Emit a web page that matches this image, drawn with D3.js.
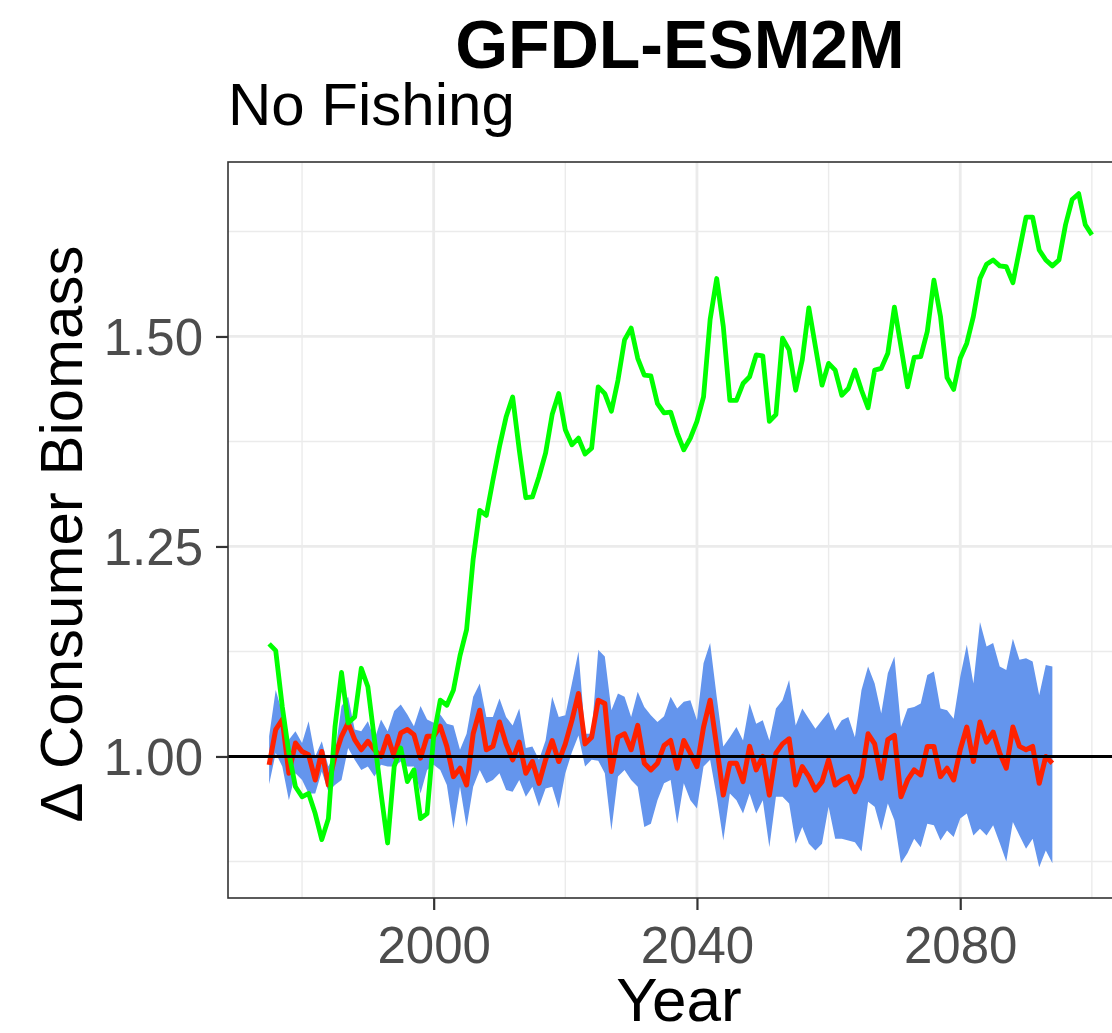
<!DOCTYPE html>
<html>
<head>
<meta charset="utf-8">
<script src="https://cdn.jsdelivr.net/npm/d3@7"></script>
<style>
  html, body { margin: 0; padding: 0; background: #fff; overflow: hidden; }
  svg { display: block; font-family: "Liberation Sans", Arial, Helvetica, sans-serif; }
</style>
</head>
<body>
<svg id="chart" width="1112" height="1033"></svg>
<script>
// Consumer biomass relative to the historical baseline, GFDL-ESM2M, no fishing
const firstYear = 1975;

// Ensemble projection (green line), 1975-2100
const ensembleValues = [
  1.134, 1.126, 1.059, 1.004, 0.964, 0.952, 0.956, 0.932, 0.901, 0.926,
  1.035, 1.100, 1.040, 1.047, 1.105, 1.083, 1.020, 0.956, 0.897, 0.988,
  1.010, 0.970, 0.984, 0.926, 0.932, 1.024, 1.067, 1.061, 1.079, 1.120,
  1.151, 1.235, 1.293, 1.287, 1.329, 1.369, 1.404, 1.428, 1.365, 1.308,
  1.309, 1.333, 1.361, 1.407, 1.432, 1.389, 1.371, 1.379, 1.360, 1.367,
  1.440, 1.432, 1.411, 1.448, 1.496, 1.510, 1.474, 1.454, 1.453, 1.420,
  1.409, 1.410, 1.385, 1.365, 1.379, 1.399, 1.428, 1.520, 1.569, 1.512,
  1.424, 1.424, 1.444, 1.452, 1.478, 1.477, 1.399, 1.407, 1.498, 1.484,
  1.436, 1.472, 1.534, 1.488, 1.442, 1.468, 1.460, 1.430, 1.438, 1.460,
  1.436, 1.415, 1.460, 1.462, 1.480, 1.535, 1.488, 1.440, 1.475, 1.476,
  1.506, 1.567, 1.524, 1.451, 1.437, 1.474, 1.492, 1.524, 1.569, 1.586,
  1.591, 1.584, 1.583, 1.564, 1.603, 1.642, 1.642, 1.603, 1.591, 1.584,
  1.591, 1.633, 1.663, 1.670, 1.633, 1.621
];

// Control run mean (red line), 1975-2094
const controlMean = [
  0.990, 1.032, 1.044, 0.980, 1.016, 1.006, 1.002, 0.972, 1.006, 0.966,
  1.000, 1.024, 1.040, 1.020, 1.008, 1.018, 1.008, 1.000, 1.024, 1.000,
  1.028, 1.032, 1.026, 0.998, 1.024, 1.024, 1.036, 1.012, 0.976, 0.986,
  0.966, 1.027, 1.055, 1.008, 1.012, 1.041, 1.015, 0.996, 1.017, 0.980,
  0.994, 0.968, 0.996, 1.019, 0.994, 1.015, 1.043, 1.075, 1.015, 1.023,
  1.067, 1.063, 0.982, 1.023, 1.027, 1.008, 1.037, 0.992, 0.984, 0.992,
  1.013, 1.019, 0.986, 1.019, 1.004, 0.988, 1.035, 1.067, 1.012, 0.954,
  0.992, 0.992, 0.970, 1.012, 0.984, 1.000, 0.954, 1.004, 1.015, 1.021,
  0.966, 0.988, 0.976, 0.960, 0.970, 0.996, 0.966, 0.972, 0.976, 0.958,
  0.976, 1.027, 1.015, 0.974, 1.020, 1.025, 0.952, 0.972, 0.984, 0.978,
  1.012, 1.012, 0.976, 0.986, 0.972, 1.008, 1.035, 0.994, 1.041, 1.017,
  1.029, 1.004, 0.986, 1.035, 1.012, 1.008, 1.012, 0.968, 1.000, 0.992
];

// Control run envelope (blue ribbon), 1975-2094
const controlUpper = [
  1.024, 1.079, 1.052, 1.020, 1.030, 1.016, 1.042, 1.000, 1.018, 0.988,
  1.004, 1.060, 1.071, 1.032, 1.030, 1.042, 1.020, 1.044, 1.030, 1.054,
  1.062, 1.050, 1.036, 1.060, 1.044, 1.040, 1.050, 1.039, 1.037, 1.008,
  1.027, 1.071, 1.087, 1.047, 1.047, 1.069, 1.047, 1.037, 1.057, 1.010,
  1.012, 0.996, 1.019, 1.071, 1.047, 1.049, 1.087, 1.125, 1.027, 1.027,
  1.127, 1.119, 1.055, 1.075, 1.071, 1.047, 1.077, 1.059, 1.049, 1.041,
  1.048, 1.071, 1.057, 1.065, 1.067, 1.043, 1.111, 1.135, 1.071, 1.012,
  1.023, 1.035, 1.019, 1.063, 1.039, 1.043, 1.019, 1.057, 1.067, 1.091,
  1.037, 1.057, 1.045, 1.033, 1.043, 1.053, 1.031, 1.043, 1.047, 1.023,
  1.079, 1.107, 1.087, 1.051, 1.099, 1.119, 1.035, 1.057, 1.059, 1.063,
  1.097, 1.101, 1.057, 1.055, 1.045, 1.095, 1.133, 1.087, 1.160, 1.131,
  1.135, 1.107, 1.103, 1.140, 1.115, 1.117, 1.113, 1.073, 1.109, 1.107
];
const controlLower = [
  0.967, 1.004, 0.988, 0.948, 0.980, 0.972, 0.956, 0.956, 0.982, 0.958,
  0.966, 0.972, 1.010, 0.996, 0.984, 0.988, 0.976, 0.990, 0.988, 0.988,
  0.994, 0.988, 0.988, 0.956, 0.984, 0.990, 0.984, 0.966, 0.914, 0.964,
  0.916, 0.964, 0.984, 0.968, 0.972, 0.980, 0.960, 0.958, 0.972, 0.952,
  0.964, 0.940, 0.962, 0.964, 0.938, 0.980, 1.005, 1.025, 0.988, 0.996,
  0.995, 0.980, 0.912, 0.976, 0.984, 0.972, 0.964, 0.916, 0.920, 0.948,
  0.968, 0.972, 0.920, 0.968, 0.948, 0.938, 0.988, 0.996, 0.952, 0.900,
  0.956, 0.948, 0.932, 0.956, 0.932, 0.948, 0.892, 0.952, 0.952, 0.944,
  0.896, 0.916, 0.896, 0.888, 0.896, 0.940, 0.902, 0.902, 0.900, 0.898,
  0.887, 0.946, 0.940, 0.912, 0.944, 0.924, 0.873, 0.885, 0.902, 0.892,
  0.920, 0.918, 0.900, 0.912, 0.904, 0.926, 0.932, 0.906, 0.914, 0.906,
  0.918, 0.897, 0.875, 0.922, 0.906, 0.890, 0.902, 0.868, 0.888, 0.873
];

const xMajorTicks = [2000, 2040, 2080];
const xMinorTicks = [1980, 2020, 2060, 2100];
const yMajorTicks = [1.00, 1.25, 1.50];
const yMinorTicks = [0.875, 1.125, 1.375, 1.625];
const baselineValue = 1.0;

const titleText = "GFDL-ESM2M";
const subtitleText = "No Fishing";
const xTitle = "Year";
const yTitle = "\u0394 Consumer Biomass";

// ---- layout ----
const panel = { left: 228, top: 162, bottom: 898, right: 1133 };

const svg = d3.select("#chart");

const x = d3.scaleLinear()
  .domain([1968.75, 2106.25])
  .range([panel.left, panel.right]);

const y = d3.scaleLinear()
  .domain([0.8315, 1.7077])
  .range([panel.bottom, panel.top]);

const ensemble = ensembleValues.map((v, i) => ({ year: firstYear + i, v }));
const control = controlMean.map((v, i) => ({
  year: firstYear + i, v, lo: controlLower[i], hi: controlUpper[i]
}));

// clip to the panel
svg.append("defs").append("clipPath").attr("id", "panel-clip")
  .append("rect")
  .attr("x", panel.left).attr("y", panel.top)
  .attr("width", panel.right - panel.left)
  .attr("height", panel.bottom - panel.top);

// grid
const grid = svg.append("g");
grid.selectAll(".ymin").data(yMinorTicks).join("line")
  .attr("x1", panel.left).attr("x2", panel.right)
  .attr("y1", d => y(d)).attr("y2", d => y(d))
  .attr("stroke", "#ebebeb").attr("stroke-width", 1.4);
grid.selectAll(".xmin").data(xMinorTicks).join("line")
  .attr("y1", panel.top).attr("y2", panel.bottom)
  .attr("x1", d => x(d)).attr("x2", d => x(d))
  .attr("stroke", "#ebebeb").attr("stroke-width", 1.4);
grid.selectAll(".ymaj").data(yMajorTicks).join("line")
  .attr("x1", panel.left).attr("x2", panel.right)
  .attr("y1", d => y(d)).attr("y2", d => y(d))
  .attr("stroke", "#ebebeb").attr("stroke-width", 2.8);
grid.selectAll(".xmaj").data(xMajorTicks).join("line")
  .attr("y1", panel.top).attr("y2", panel.bottom)
  .attr("x1", d => x(d)).attr("x2", d => x(d))
  .attr("stroke", "#ebebeb").attr("stroke-width", 2.8);

const plot = svg.append("g").attr("clip-path", "url(#panel-clip)");

// control envelope
plot.append("path")
  .datum(control)
  .attr("fill", "#6495ed")
  .attr("d", d3.area()
    .x(d => x(d.year))
    .y0(d => y(d.lo))
    .y1(d => y(d.hi)));

// control mean
plot.append("path")
  .datum(control)
  .attr("fill", "none")
  .attr("stroke", "#ff2200")
  .attr("stroke-width", 5)
  .attr("stroke-linejoin", "round")
  .attr("d", d3.line().x(d => x(d.year)).y(d => y(d.v)));

// ensemble
plot.append("path")
  .datum(ensemble)
  .attr("fill", "none")
  .attr("stroke", "#00ff00")
  .attr("stroke-width", 4.8)
  .attr("stroke-linejoin", "round")
  .attr("d", d3.line().x(d => x(d.year)).y(d => y(d.v)));

// reference line at 1
plot.append("line")
  .attr("x1", panel.left).attr("x2", panel.right)
  .attr("y1", y(baselineValue)).attr("y2", y(baselineValue))
  .attr("stroke", "#000").attr("stroke-width", 3);

// panel border
svg.append("rect")
  .attr("x", panel.left).attr("y", panel.top)
  .attr("width", panel.right - panel.left)
  .attr("height", panel.bottom - panel.top)
  .attr("fill", "none").attr("stroke", "#333333").attr("stroke-width", 1.6);

// axes
const xAxis = svg.append("g")
  .attr("transform", `translate(0,${panel.bottom})`)
  .call(d3.axisBottom(x).tickValues(xMajorTicks).tickFormat(d3.format("d"))
    .tickSize(12).tickPadding(17));
const yAxis = svg.append("g")
  .attr("transform", `translate(${panel.left},0)`)
  .call(d3.axisLeft(y).tickValues(yMajorTicks).tickFormat(d3.format(".2f"))
    .tickSize(12).tickPadding(13));

[xAxis, yAxis].forEach(g => {
  g.select(".domain").remove();
  g.selectAll(".tick line").attr("stroke", "#333333").attr("stroke-width", 2.2);
  g.selectAll(".tick text")
    .attr("fill", "#4d4d4d")
    .style("font-size", "51px")
    .style("font-family", "'Liberation Sans', Arial, sans-serif");
});
xAxis.selectAll(".tick text").attr("dy", "0.71em");
yAxis.selectAll(".tick text").attr("dy", "0.36em");

// titles
svg.append("text")
  .attr("x", 680).attr("y", 68)
  .attr("text-anchor", "middle")
  .style("font-size", "68px").style("font-weight", "bold")
  .attr("fill", "#000")
  .text(titleText);

svg.append("text")
  .attr("x", panel.left).attr("y", 125)
  .style("font-size", "60px")
  .attr("fill", "#000")
  .text(subtitleText);

svg.append("text")
  .attr("x", 679).attr("y", 1021)
  .attr("text-anchor", "middle")
  .style("font-size", "62px")
  .attr("fill", "#000")
  .text(xTitle);

svg.append("text")
  .attr("transform", `translate(82,${(panel.top + panel.bottom) / 2 + 4}) rotate(-90)`)
  .attr("text-anchor", "middle")
  .style("font-size", "60px")
  .attr("fill", "#000")
  .text(yTitle);
</script>
</body>
</html>
